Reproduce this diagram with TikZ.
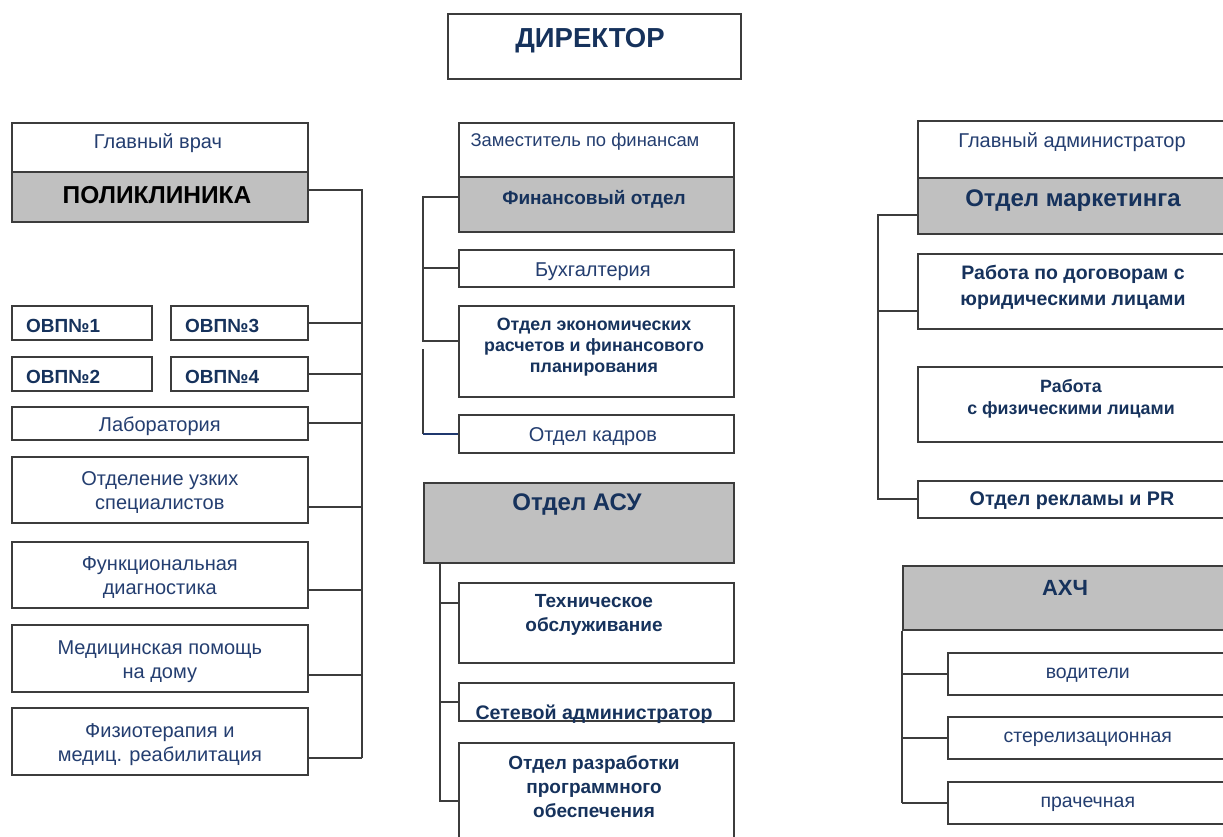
\documentclass[tikz,border=0pt]{standalone}
\usepackage{fontspec}
\setmainfont{Liberation Sans}
\definecolor{linegray}{RGB}{60,60,60}
\definecolor{headgray}{RGB}{192,192,192}
\definecolor{txtnavy}{RGB}{22,50,92}
\definecolor{txtblue}{RGB}{36,62,112}
\definecolor{linkblue}{RGB}{31,56,110}
\newcommand{\orgfs}[2]{\fontsize{#1pt}{#2pt}\selectfont}

\begin{document}
\begin{tikzpicture}[x=1pt, y=-1pt,
  box/.style={draw=linegray, line width=1.6pt, fill=white, inner sep=0pt, anchor=north west},
  headbox/.style={box, fill=headgray},
  sz/.style 2 args={minimum width=#1, minimum height=#2},
  lbl/.style={text=txtblue, align=center, inner sep=0pt, yshift=-3, font=\orgfs{20}{24}},
  lblb/.style={lbl, text=txtnavy, font=\bfseries\orgfs{19}{24}},
  bus/.style={draw=linegray, line width=1.8pt}]
  \useasboundingbox (0,0) rectangle (1223,836);
  \clip (0,0) rectangle (1223,836);
  % director
  \node[box, sz={293}{65}] (dir) at (447,13) {};
  \node[lblb, font=\bfseries\orgfs{27.5}{30}] (dir-t) at (590,38) {ДИРЕКТОР};

  % left column: polyclinic
  \node[box, sz={296}{49}] (vrach) at (11,122) {};
  \node[headbox, sz={296}{50}] (polik) at (11,171) {};
  \node[lbl] (vrach-t) at (158,140) {Главный врач};
  \node[lblb, text=black, font=\bfseries\orgfs{24.5}{28}] (polik-t) at (157,192) {ПОЛИКЛИНИКА};
  \coordinate (busL) at (362,189);
  \coordinate (polik-c) at ([yshift=7]polik.east);
  \foreach \nm/\x/\y/\w/\num in {ovp1/11/305/140/1, ovp3/170/305/137/3, ovp2/11/356/140/2, ovp4/170/356/137/4}{
    \node[box, sz={\w}{34}] (\nm) at (\x,\y) {};
    \node[lblb, anchor=west] (\nm-t) at ([xshift=15]\nm.west) {ОВП№\num};
  }
  \draw[bus] (ovp3.east) -- (ovp3.east -| busL);
  \draw[bus] (ovp4.east) -- (ovp4.east -| busL);
  \foreach \nm/\y/\h/\dy/\txt in {lab/406/33/0/Лаборатория,
      uzk/456/66/-17/{Отделение узких\\специалистов},
      fun/541/66/-15/{Функциональная\\диагностика},
      dom/624/67/-17/{Медицинская помощь\\на дому},
      fiz/707/67/-17/{Физиотерапия и\\медиц. реабилитация}}{
    \node[box, sz={296}{\h}] (\nm) at (11,\y) {};
    \node[lbl] (\nm-t) at (\nm.center) {\txt};
    \coordinate (\nm-c) at ([yshift=\dy]\nm.east);
    \draw[bus] (\nm-c) -- (\nm-c -| busL);
  }
  \draw[bus] (polik-c) -- (polik-c -| busL) -- (fiz-c -| busL);

  % middle column: finance
  \node[box, sz={275}{54}] (zam) at (458,122) {};
  \node[headbox, sz={275}{55}] (finotd) at (458,176) {};
  \node[box, sz={275}{37}] (buh) at (458,249) {};
  \node[box, sz={275}{91}] (econ) at (458,305) {};
  \node[box, sz={275}{38}] (kadr) at (458,414) {};
  \node[lbl, font=\orgfs{18.4}{21}] (zam-t) at (585,139) {Заместитель по финансам};
  \node[lblb] (finotd-t) at (594,196) {Финансовый отдел};
  \node[lbl] (buh-t) at (593,269) {Бухгалтерия};
  \node[lblb, font=\bfseries\orgfs{17.8}{21}] (econ-t) at (594,344) {Отдел экономических\\расчетов и финансового\\планирования};
  \node[lbl] (kadr-t) at (593,434) {Отдел кадров};
  \coordinate (busF) at (423,349);
  \coordinate (finotd-c) at ([yshift=7.5]finotd.west);
  \coordinate (econ-c) at ([yshift=10.5]econ.west);
  \draw[bus] (finotd-c) -- (finotd-c -| busF) -- (econ-c -| busF) -- (econ-c);
  \draw[bus] (buh.west) -- (buh.west -| busF);
  \draw[bus] (busF) -- (busF |- kadr.west);
  \draw[bus, draw=linkblue, line width=1.5pt] (busF |- kadr.west) -- (kadr.west);

  % middle column: ASU
  \node[headbox, sz={310}{80}] (asu) at (423,482) {};
  \node[box, sz={275}{80}] (tech) at (458,582) {};
  \node[box, sz={275}{38}] (net) at (458,682) {};
  \node[box, sz={275}{110}] (dev) at (458,742) {};
  \node[lblb, font=\bfseries\orgfs{24}{26}] (asu-t) at (577,502) {Отдел АСУ};
  \node[lblb] (tech-t) at (594,612) {Техническое\\обслуживание};
  \node[lblb, font=\bfseries\orgfs{19.6}{24}] (net-t) at (594,711) {Сетевой администратор};
  \node[lblb] (dev-t) at (594,784) {Отдел разработки\\программного\\обеспечения};
  \coordinate (busA) at (440,562);
  \coordinate (tech-c) at ([yshift=20]tech.west);
  \coordinate (dev-c) at ([yshift=-3]dev.west);
  \draw[bus] (busA) |- (dev-c);
  \draw[bus] (tech-c) -- (tech-c -| busA);
  \draw[bus] (net.west) -- (net.west -| busA);

  % right column: marketing
  \node[box, sz={310}{57}] (gladm) at (917,120) {};
  \node[headbox, sz={310}{56}] (mark) at (917,177) {};
  \node[box, sz={310}{75}] (dog) at (917,253) {};
  \node[box, sz={310}{75}] (fizl) at (917,366) {};
  \node[box, sz={310}{37}] (pr) at (917,480) {};
  \node[lbl, font=\orgfs{20}{22}] (gladm-t) at (1072,139) {Главный администратор};
  \node[lblb, font=\bfseries\orgfs{24}{26}] (mark-t) at (1073,198) {Отдел маркетинга};
  \node[lblb, font=\bfseries\orgfs{19.5}{26}] (dog-t) at (1073,284) {Работа по договорам с\\юридическими лицами};
  \node[lblb, font=\bfseries\orgfs{17.8}{22}] (fizl-t) at (1071,396) {Работа\\с физическими лицами};
  \node[lblb, font=\bfseries\orgfs{19.7}{24}] (pr-t) at (1072,498) {Отдел рекламы и PR};
  \coordinate (busM) at (878,214);
  \coordinate (mark-c) at ([yshift=-9]mark.west);
  \coordinate (dog-c) at ([yshift=-19.5]dog.west);
  \draw[bus] (mark-c) -- (mark-c -| busM) |- (pr.west);
  \draw[bus] (dog-c) -- (dog-c -| busM);

  % right column: AHCh
  \node[headbox, sz={325}{64}] (ahch) at (902,565) {};
  \node[lblb, font=\bfseries\orgfs{22}{26}] (ahch-t) at (1065,585) {АХЧ};
  \foreach \nm/\y/\txt in {vod/652/водители, ster/716/стерелизационная, prach/781/прачечная}{
    \node[box, sz={280}{42}] (\nm) at (947,\y) {};
    \node[lbl, font=\orgfs{19.5}{24}] (\nm-t) at ([yshift=2]\nm.center) {\txt};
    \draw[bus] (\nm.west) -- (\nm.west -| ahch.south west);
  }
  \draw[bus] (ahch.south west) -- (ahch.south west |- prach.west);
\end{tikzpicture}
\end{document}
